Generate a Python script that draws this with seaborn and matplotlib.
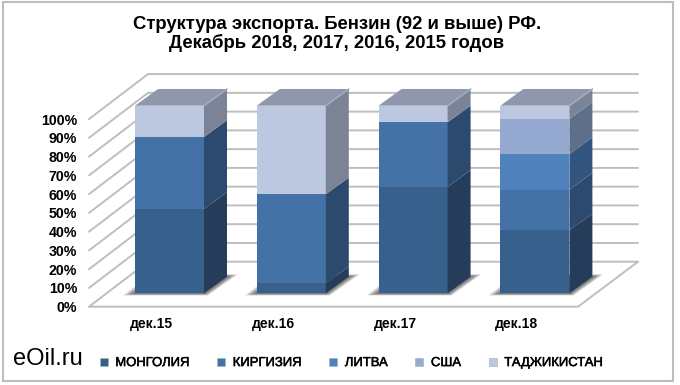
import matplotlib
matplotlib.use("Agg")
import matplotlib.pyplot as plt
from matplotlib.patches import Rectangle
from matplotlib.lines import Line2D
import matplotlib.patheffects as pe
import numpy as np
import seaborn as sns

categories = ["дек.15", "дек.16", "дек.17", "дек.18"]
series_names = ["МОНГОЛИЯ", "КИРГИЗИЯ", "ЛИТВА", "США", "ТАДЖИКИСТАН"]
mongolia = [45.0, 5.3, 56.7, 33.6]
kyrgyzstan = [38.3, 47.5, 34.4, 21.7]
lithuania = [0.0, 0.0, 0.0, 18.9]
usa = [0.0, 0.0, 0.0, 18.7]
tajikistan = [16.7, 47.2, 8.9, 7.1]
tick_labels = ["0%", "10%", "20%", "30%", "40%", "50%", "60%", "70%", "80%", "90%", "100%"]

front_colors = ["#37608C", "#4472A6", "#4F81BD", "#95A9D1", "#BBC8E0"]
side_colors = ["#253C5B", "#2C4A6D", "#31557F", "#5E6F8A", "#7A8496"]
top_color = "#8E97AC"
top_edge_color = "#A4ACBE"
grid_color = "#BEBEBE"
text_color = "#000000"

W, H = 680, 385
sns.set_theme(style="white")
plt.rcParams["font.family"] = ["Liberation Sans", "DejaVu Sans"]

fig = plt.figure(figsize=(W / 100, H / 100), dpi=100, facecolor="white")
fig.add_artist(Rectangle((2.5 / W, 1 - 381 / H), 670.5 / W, 379 / H, transform=fig.transFigure,
                         fill=False, edgecolor="#BDBDBD", linewidth=1.5))

# axes frame in pixels: wall front-left corner to back-right
L, R, B, T = 89, 638, 306.7, 74
ax = fig.add_axes([L / W, 1 - B / H, (R - L) / W, (B - T) / H])
ax.patch.set_alpha(0)
PX_X, PX_Y = 121.8, 1.876
x_of = lambda px: (px - 169.5) / PX_X
y_of = lambda py: (293.3 - py) / PX_Y

stack = [mongolia, kyrgyzstan, lithuania, usa, tajikistan]
bw = 69 / PX_X
ddx, ddy = 23 / PX_X, 16.7 / PX_Y

bottom = np.zeros(4)
for vals, col in zip(stack, front_colors):
    sns.barplot(x=categories, y=vals, bottom=bottom, color=col, saturation=1, width=bw,
                ax=ax, zorder=5, linewidth=0)
    bottom = bottom + np.array(vals)

ax.set_xlim(x_of(L), x_of(R))
ax.set_ylim(y_of(B), y_of(T))
ax.grid(False)

# walls and floor
wx0, wx1, wxr, fxr = x_of(89), x_of(148), x_of(638), x_of(578)
wy0, wy1 = y_of(306.7), y_of(261.7)
lk = dict(color=grid_color, lw=1.4, clip_on=False, zorder=1, solid_capstyle="round")
for p in range(0, 101, 10):
    ax.plot([wx0, wx1, wxr], [wy0 + p, wy1 + p, wy1 + p], **lk)
ax.plot([wx0, fxr, wxr], [wy0, wy0, wy1], **lk)

# shadows, side and top faces
core_dx = np.array([0.0, bw, bw + ddx, ddx])
core_dy = np.array([0.0, 0.0, ddy, ddy])
outer_dx = np.array([-12 / PX_X, bw + 4 / PX_X, bw + 34 / PX_X, 15 / PX_X])
outer_dy = np.array([-2.2 / PX_Y, -2.2 / PX_Y, 19 / PX_Y, 19 / PX_Y])
n_layers = 9
for i in range(4):
    l, r = i - bw / 2, i + bw / 2
    for k in range(n_layers):
        f = 1 - k / n_layers
        ax.fill(l + core_dx + (outer_dx - core_dx) * f, core_dy + (outer_dy - core_dy) * f,
                color="#303030", alpha=0.11, lw=0, zorder=2, clip_on=False)
    b = 0.0
    for vals, col in zip(stack, side_colors):
        v = vals[i]
        if v > 0:
            ax.fill([r, r + ddx, r + ddx, r], [b, b + ddy, b + v + ddy, b + v], color=col, lw=0, zorder=5)
        b += v
    ax.fill([l, l + ddx, r + ddx, r], [100, 100 + ddy, 100 + ddy, 100], color=top_color, lw=0, zorder=5, clip_on=False)
    ax.plot([r, r + ddx], [100, 100 + ddy], color=top_edge_color, lw=1.2, zorder=6, clip_on=False)

ax.set_xticks(np.arange(4) - 18 / PX_X)
ax.set_xticklabels(categories, fontsize=10, fontweight="bold", color=text_color)
ax.set_yticks(wy0 + np.arange(0, 101, 10))
ax.set_yticklabels(tick_labels, fontsize=10.2, fontweight="bold", color=text_color)
ax.tick_params(axis="x", length=0, pad=7.5)
ax.tick_params(axis="y", length=0, pad=8.6)
ax.set_xlabel("")
ax.set_ylabel("")
sns.despine(ax=ax, left=True, bottom=True)

fig.text(337 / W, 1 - 34 / H, "Структура экспорта. Бензин (92 и выше) РФ.\nДекабрь 2018, 2017, 2016, 2015 годов",
         ha="center", va="center", fontsize=13.3, fontweight="bold", color=text_color, linespacing=1.1)
fig.text(13 / W, 1 - 359 / H, "eOil.ru", ha="left", va="center", fontsize=17, color=text_color)

handles = [Line2D([], [], linestyle="", marker="s", markersize=5.6, markerfacecolor=c, markeredgecolor="#A9B4C4",
                  markeredgewidth=0.5) for c in front_colors]
leg = fig.legend(handles, series_names, ncol=5, loc="center left", bbox_to_anchor=(100 / W, 1 - 363 / H), frameon=False,
                 fontsize=9.4, handlelength=0.55, handletextpad=0.62, columnspacing=2.15, borderpad=0, borderaxespad=0)
for t in leg.get_texts():
    t.set_color(text_color)
    t.set_path_effects([pe.withStroke(linewidth=0.35, foreground=text_color)])

fig.savefig("out.png", dpi=100)
